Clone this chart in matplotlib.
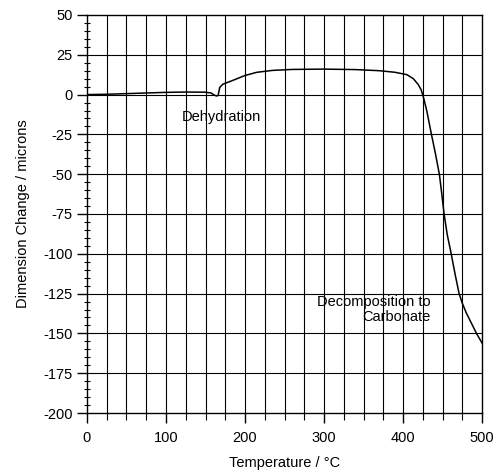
import matplotlib
matplotlib.use("Agg")
import matplotlib.pyplot as plt
from matplotlib.ticker import MultipleLocator

plt.rcParams['font.family'] = ['Liberation Sans', 'DejaVu Sans']
plt.rcParams['axes.unicode_minus'] = False

# Dilatometer trace: temperature (°C) vs dimension change (microns)
temperature = [0, 25, 50, 75, 100, 125, 150, 157, 161, 164, 166, 168, 172, 185,
               200, 215, 235, 260, 300, 340, 370, 390, 405, 413, 419, 423, 426,
               430, 436, 441, 446, 449, 452, 456, 461, 466, 471, 475, 480, 486,
               493, 500]
dimension_change = [0, 0.2, 0.6, 1.0, 1.4, 1.6, 1.5, 1.0, -0.3, -0.9, -0.5, 4.5,
                    6.5, 9.0, 12.0, 14.0, 15.2, 15.8, 16, 15.7, 15, 14, 12.5,
                    10, 6.5, 3, -2, -10, -25, -37, -50, -62, -75, -88, -100,
                    -113, -125, -131, -137, -143, -150, -156]

x_ticks = [0, 100, 200, 300, 400, 500]
y_ticks = [50, 25, 0, -25, -50, -75, -100, -125, -150, -175, -200]

fig = plt.figure(figsize=(4.96, 4.71), dpi=100)
ax = fig.add_axes([0.1754, 0.1231, 0.7964, 0.8451])

ax.plot(temperature, dimension_change, color='black', lw=1.1, zorder=3)

ax.set_xlim(0, 500)
ax.set_ylim(-200, 50)
ax.set_xticks(x_ticks)
ax.set_yticks(y_ticks)
ax.xaxis.set_minor_locator(MultipleLocator(25))
ax.yaxis.set_minor_locator(MultipleLocator(5))

# Grid every 25 in both directions
for xv in range(25, 500, 25):
    ax.axvline(xv, color='black', lw=0.8, zorder=1)
for yv in range(-175, 50, 25):
    ax.axhline(yv, color='black', lw=0.8, zorder=1)

for side in ax.spines.values():
    side.set_linewidth(1.0)

ax.tick_params(axis='both', which='major', direction='out', length=7,
               width=1.0, labelsize=10.5, colors='black')
ax.tick_params(axis='y', which='minor', direction='inout', length=4, width=0.8)
ax.tick_params(axis='x', which='minor', direction='out', length=5, width=0.8)
ax.tick_params(axis='x', which='major', pad=6)

ax.set_xlabel('Temperature / °C', fontsize=10.5, labelpad=8)
ax.set_ylabel('Dimension Change / microns', fontsize=10.5, labelpad=9)

ax.text(170, -14, 'Dehydration', fontsize=10.5, ha='center', va='center')
ax.text(435, -135, 'Decomposition to\nCarbonate', fontsize=10.5,
        ha='right', va='center', multialignment='right', linespacing=1.1)

fig.savefig('out.png', dpi=100)
